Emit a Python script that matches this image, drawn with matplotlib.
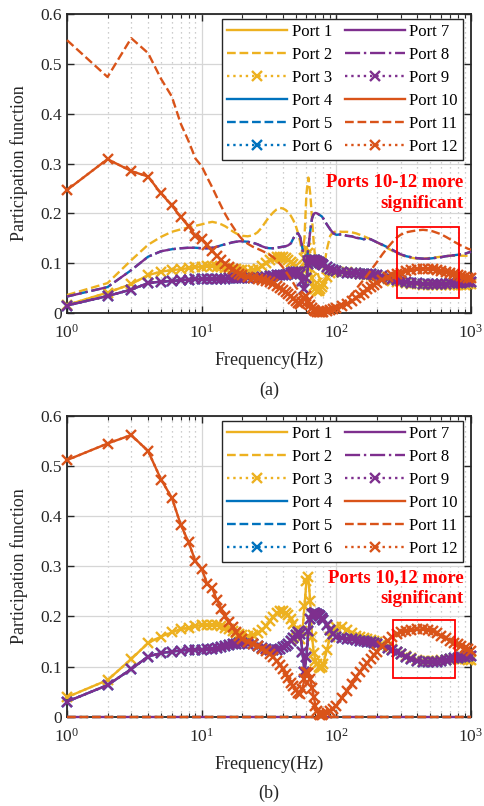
import numpy as np
import matplotlib.pyplot as plt
from matplotlib.patches import Rectangle
from matplotlib.ticker import FuncFormatter, LogLocator, NullFormatter

plt.rcParams['font.family'] = ['Liberation Serif', 'DejaVu Serif']
plt.rcParams['mathtext.fontset'] = 'custom'
plt.rcParams['mathtext.rm'] = 'Liberation Serif'
plt.rcParams['mathtext.it'] = 'Liberation Serif:italic'

# sampled frequencies (Hz)
freq = [1, 2, 3, 4, 5, 6, 7, 8, 9, 10,
        11, 12, 13, 14, 15, 16, 17, 18, 19, 20,
        22, 24, 26, 28, 30, 32, 34, 36, 38, 40,
        42, 44, 46, 48, 50, 52, 54, 56, 58, 60,
        62, 64, 66, 68, 70, 72, 74, 76, 78, 80,
        85, 90, 95, 100, 110, 120, 130, 140, 150, 160,
        170, 180, 190, 200, 220, 240, 260, 280, 300, 330,
        360, 400, 440, 480, 520, 560, 600, 650, 700, 750,
        800, 850, 900, 950, 1000]

# (a) ports 1 & 3
a_yellow = [0.016, 0.041, 0.058, 0.076, 0.083, 0.086, 0.088, 0.090, 0.092, 0.093,
            0.094, 0.094, 0.093, 0.092, 0.091, 0.090, 0.089, 0.088, 0.087, 0.086,
            0.085, 0.086, 0.089, 0.094, 0.100, 0.106, 0.110, 0.112, 0.113, 0.112,
            0.110, 0.107, 0.103, 0.099, 0.095, 0.088, 0.078, 0.080, 0.110, 0.130,
            0.120, 0.090, 0.070, 0.055, 0.048, 0.045, 0.045, 0.048, 0.052, 0.058,
            0.072, 0.080, 0.083, 0.084, 0.083, 0.082, 0.081, 0.080, 0.079, 0.078,
            0.077, 0.076, 0.075, 0.074, 0.071, 0.068, 0.065, 0.063, 0.062, 0.060,
            0.059, 0.058, 0.057, 0.057, 0.057, 0.057, 0.057, 0.057, 0.057, 0.057,
            0.057, 0.057, 0.057, 0.058, 0.058]
# (a) port 2
a_port2 = [0.036, 0.060, 0.106, 0.137, 0.153, 0.163, 0.168, 0.172, 0.175, 0.178,
           0.181, 0.183, 0.181, 0.178, 0.174, 0.169, 0.164, 0.160, 0.157, 0.155,
           0.154, 0.156, 0.162, 0.172, 0.184, 0.194, 0.202, 0.208, 0.211, 0.210,
           0.207, 0.202, 0.195, 0.186, 0.175, 0.160, 0.142, 0.120, 0.150, 0.240,
           0.272, 0.240, 0.190, 0.140, 0.105, 0.085, 0.073, 0.068, 0.070, 0.085,
           0.127, 0.155, 0.162, 0.164, 0.163, 0.163, 0.162, 0.160, 0.157, 0.154,
           0.151, 0.148, 0.145, 0.142, 0.136, 0.130, 0.125, 0.120, 0.117, 0.113,
           0.111, 0.109, 0.109, 0.110, 0.111, 0.112, 0.113, 0.114, 0.115, 0.115,
           0.115, 0.115, 0.115, 0.115, 0.115]
# (a) ports 5 & 8
a_port8 = [0.033, 0.052, 0.086, 0.113, 0.124, 0.128, 0.130, 0.131, 0.131, 0.130,
           0.130, 0.131, 0.133, 0.136, 0.138, 0.140, 0.142, 0.143, 0.144, 0.144,
           0.143, 0.141, 0.138, 0.134, 0.131, 0.130, 0.130, 0.131, 0.132, 0.133,
           0.134, 0.136, 0.140, 0.150, 0.158, 0.160, 0.152, 0.130, 0.105, 0.100,
           0.130, 0.165, 0.190, 0.199, 0.201, 0.200, 0.198, 0.196, 0.194, 0.190,
           0.178, 0.168, 0.160, 0.157, 0.158, 0.155, 0.154, 0.151, 0.150, 0.148,
           0.150, 0.148, 0.145, 0.142, 0.137, 0.132, 0.127, 0.122, 0.118, 0.114,
           0.112, 0.110, 0.109, 0.109, 0.110, 0.111, 0.112, 0.114, 0.115, 0.116,
           0.117, 0.118, 0.119, 0.121, 0.123]
# (a) ports 4, 6, 7, 9
a_purple = [0.015, 0.034, 0.047, 0.060, 0.063, 0.064, 0.066, 0.067, 0.068, 0.068,
            0.068, 0.068, 0.069, 0.069, 0.069, 0.070, 0.070, 0.070, 0.070, 0.070,
            0.070, 0.071, 0.071, 0.072, 0.073, 0.074, 0.075, 0.076, 0.076, 0.077,
            0.077, 0.078, 0.080, 0.082, 0.083, 0.082, 0.078, 0.065, 0.048, 0.070,
            0.098, 0.106, 0.107, 0.107, 0.106, 0.104, 0.102, 0.100, 0.098, 0.096,
            0.092, 0.089, 0.086, 0.084, 0.082, 0.081, 0.080, 0.080, 0.079, 0.079,
            0.078, 0.078, 0.077, 0.076, 0.074, 0.071, 0.068, 0.066, 0.064, 0.062,
            0.061, 0.060, 0.059, 0.059, 0.059, 0.059, 0.059, 0.059, 0.060, 0.060,
            0.061, 0.061, 0.062, 0.062, 0.063]
# (a) ports 10 & 12
a_orange = [0.247, 0.309, 0.285, 0.274, 0.240, 0.216, 0.193, 0.174, 0.155, 0.148,
            0.136, 0.125, 0.115, 0.106, 0.099, 0.093, 0.088, 0.083, 0.079, 0.076,
            0.073, 0.071, 0.069, 0.067, 0.065, 0.062, 0.059, 0.055, 0.051, 0.047,
            0.043, 0.038, 0.034, 0.029, 0.025, 0.021, 0.018, 0.022, 0.030, 0.035,
            0.025, 0.016, 0.009, 0.005, 0.003, 0.002, 0.001, 0.001, 0.001, 0.002,
            0.003, 0.005, 0.007, 0.009, 0.013, 0.018, 0.024, 0.030, 0.036, 0.041,
            0.048, 0.053, 0.057, 0.061, 0.067, 0.072, 0.076, 0.079, 0.081, 0.084,
            0.086, 0.088, 0.089, 0.089, 0.088, 0.087, 0.085, 0.083, 0.081, 0.079,
            0.077, 0.075, 0.073, 0.071, 0.070]
# (a) port 11
a_port11 = [0.548, 0.474, 0.552, 0.522, 0.470, 0.435, 0.380, 0.345, 0.310, 0.295,
            0.272, 0.252, 0.232, 0.214, 0.198, 0.185, 0.174, 0.164, 0.155, 0.148,
            0.139, 0.133, 0.129, 0.125, 0.121, 0.117, 0.112, 0.106, 0.099, 0.092,
            0.084, 0.076, 0.068, 0.060, 0.052, 0.046, 0.040, 0.032, 0.024, 0.018,
            0.013, 0.009, 0.007, 0.006, 0.005, 0.005, 0.004, 0.004, 0.005, 0.005,
            0.006, 0.008, 0.010, 0.012, 0.018, 0.027, 0.037, 0.048, 0.058, 0.067,
            0.076, 0.085, 0.094, 0.102, 0.118, 0.131, 0.142, 0.151, 0.157, 0.162,
            0.164, 0.166, 0.167, 0.166, 0.164, 0.161, 0.158, 0.153, 0.148, 0.143,
            0.139, 0.135, 0.132, 0.129, 0.127]

# (b) ports 1 & 3
b_yellow = [0.039, 0.073, 0.115, 0.147, 0.160, 0.168, 0.175, 0.177, 0.181, 0.183,
            0.183, 0.183, 0.182, 0.180, 0.177, 0.174, 0.170, 0.167, 0.165, 0.163,
            0.162, 0.163, 0.166, 0.172, 0.180, 0.190, 0.199, 0.206, 0.210, 0.210,
            0.207, 0.202, 0.195, 0.185, 0.172, 0.160, 0.155, 0.170, 0.220, 0.270,
            0.278, 0.230, 0.160, 0.128, 0.112, 0.105, 0.100, 0.098, 0.100, 0.105,
            0.133, 0.160, 0.173, 0.178, 0.178, 0.172, 0.166, 0.162, 0.160, 0.158,
            0.156, 0.154, 0.152, 0.150, 0.146, 0.141, 0.135, 0.130, 0.126, 0.121,
            0.117, 0.113, 0.111, 0.111, 0.111, 0.112, 0.113, 0.114, 0.115, 0.115,
            0.115, 0.115, 0.115, 0.114, 0.114]
# (b) ports 4, 6, 7, 9
b_purple = [0.030, 0.063, 0.095, 0.120, 0.127, 0.130, 0.132, 0.133, 0.134, 0.134,
            0.135, 0.136, 0.138, 0.140, 0.142, 0.144, 0.145, 0.146, 0.147, 0.147,
            0.146, 0.145, 0.142, 0.138, 0.135, 0.133, 0.133, 0.134, 0.136, 0.139,
            0.142, 0.146, 0.152, 0.158, 0.163, 0.168, 0.165, 0.130, 0.090, 0.120,
            0.170, 0.195, 0.205, 0.207, 0.206, 0.204, 0.202, 0.200, 0.197, 0.193,
            0.182, 0.172, 0.165, 0.160, 0.157, 0.156, 0.155, 0.153, 0.152, 0.151,
            0.150, 0.149, 0.147, 0.145, 0.142, 0.138, 0.133, 0.129, 0.125, 0.120,
            0.116, 0.112, 0.110, 0.109, 0.109, 0.110, 0.111, 0.113, 0.115, 0.117,
            0.118, 0.119, 0.120, 0.121, 0.122]
# (b) ports 10 & 12
b_orange = [0.512, 0.545, 0.562, 0.530, 0.473, 0.437, 0.383, 0.348, 0.310, 0.295,
            0.265, 0.256, 0.232, 0.215, 0.200, 0.188, 0.178, 0.169, 0.161, 0.155,
            0.149, 0.145, 0.141, 0.136, 0.131, 0.125, 0.119, 0.112, 0.104, 0.095,
            0.086, 0.077, 0.068, 0.061, 0.053, 0.047, 0.045, 0.055, 0.075, 0.090,
            0.088, 0.075, 0.058, 0.040, 0.022, 0.012, 0.006, 0.004, 0.004, 0.005,
            0.008, 0.012, 0.016, 0.022, 0.037, 0.052, 0.066, 0.079, 0.090, 0.100,
            0.108, 0.116, 0.123, 0.130, 0.142, 0.152, 0.160, 0.165, 0.168, 0.171,
            0.173, 0.174, 0.174, 0.172, 0.170, 0.166, 0.162, 0.157, 0.152, 0.148,
            0.145, 0.141, 0.138, 0.135, 0.132]
# (b) ports 2, 5, 8, 11
b_zero = [0.0] * len(freq)

port_labels = ['Port %d' % i for i in range(1, 13)]
yellow, blue, purple, orange = '#EDB120', '#0072BD', '#7E2F8E', '#D95319'
colors = [yellow] * 3 + [blue] * 3 + [purple] * 3 + [orange] * 3
styles = ['-', '--', ':'] * 4
styles[7] = '-.'

fig = plt.figure(figsize=(4.84, 8.06), dpi=100)
ax_a = fig.add_axes([0.1384, 0.6117, 0.8347, 0.3706])
ax_b = fig.add_axes([0.1384, 0.1108, 0.8347, 0.3731])

series_a = [a_yellow, a_port2, a_yellow, a_purple, a_port8, a_purple,
            a_purple, a_port8, a_purple, a_orange, a_port11, a_orange]
series_b = [b_yellow, b_zero, b_yellow, b_purple, b_zero, b_purple,
            b_purple, b_zero, b_purple, b_orange, b_zero, b_orange]


def draw(ax, series, note, note_y, box, panel, panel_y):
    for i, ys in enumerate(series):
        kw = dict(marker='x', ms=7, mew=1.7) if i % 3 == 2 else {}
        ax.plot(freq, ys, linestyle=styles[i], color=colors[i], lw=1.7,
                label=port_labels[i], clip_on=False, zorder=3, **kw)
    ax.set_xscale('log')
    ax.set_xlim(1, 1000)
    ax.set_ylim(0, 0.6)
    ax.set_yticks([0, 0.1, 0.2, 0.3, 0.4, 0.5, 0.6])
    ax.yaxis.set_major_formatter(FuncFormatter(lambda v, p: '0' if v == 0 else '%g' % v))
    ax.xaxis.set_minor_locator(LogLocator(base=10, subs=np.arange(2, 10)))
    ax.xaxis.set_minor_formatter(NullFormatter())
    ax.grid(True, which='major', color='#d6d6d6', lw=0.9)
    ax.grid(True, which='minor', axis='x', color='#bdbdbd', ls=(0, (1, 3)), lw=0.9)
    ax.set_axisbelow(True)
    ax.tick_params(which='both', direction='in', top=True, right=True,
                   labelsize=12.5, colors='#262626')
    ax.tick_params(axis='x', which='major', pad=8)
    ax.tick_params(which='major', length=5, width=1)
    ax.tick_params(which='minor', length=3, width=0.8)
    for s in ax.spines.values():
        s.set_linewidth(1.3)
        s.set_color('#262626')
    ax.set_xlabel('Frequency(Hz)', fontsize=13, color='#262626', labelpad=7)
    ax.set_ylabel('Participation function', fontsize=13, color='#262626', labelpad=9)
    leg = ax.legend(ncol=2, loc='upper right', bbox_to_anchor=(0.98, 0.984),
                    borderaxespad=0, fontsize=12, handlelength=3.6,
                    handletextpad=0.25, columnspacing=0.8, labelspacing=0.42,
                    numpoints=1, fancybox=False, framealpha=1,
                    borderpad=0.3)
    leg.get_frame().set_edgecolor('#262626')
    leg.get_frame().set_linewidth(1.0)
    leg.set_zorder(10)
    ax.text(0.982, note_y, note, transform=ax.transAxes, ha='right', va='top',
            color='#ff0000', fontsize=13.5, fontweight='bold', linespacing=1.3,
            zorder=6)
    ax.add_patch(Rectangle((box[0], box[2]), box[1] - box[0], box[3] - box[2],
                           fill=False, edgecolor='#ff0000', lw=1.3, zorder=5))
    ax.text(0.5, panel_y, panel, transform=ax.transAxes, ha='center', va='center',
            fontsize=13, color='#262626')


draw(ax_a, series_a, 'Ports 10-12 more\nsignificant', 0.466,
     (282, 813, 0.030, 0.173), '(a)', -0.26)
draw(ax_b, series_b, 'Ports 10,12 more\nsignificant', 0.49,
     (263, 759, 0.077, 0.193), '(b)', -0.255)

fig.savefig('out.png', dpi=100)
